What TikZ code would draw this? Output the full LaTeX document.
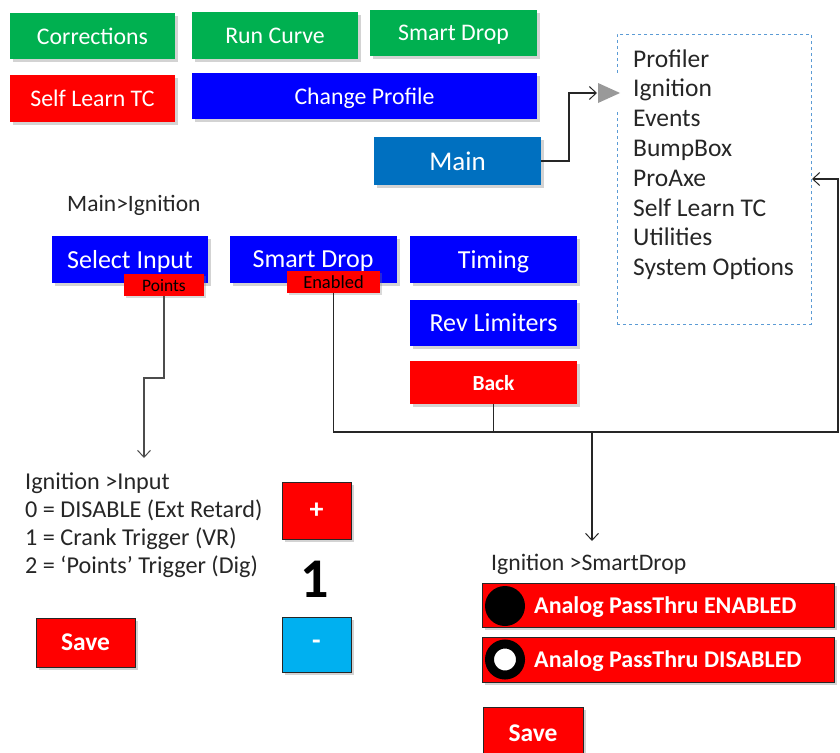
\documentclass[tikz,border=0pt]{standalone}
\usepackage{fontspec}
\setmainfont{Carlito}
\usetikzlibrary{shadows,arrows.meta,calc}
\definecolor{xgreen}{HTML}{00B050}
\definecolor{xred}{HTML}{FF0000}
\definecolor{xblue}{HTML}{0000FF}
\definecolor{xmain}{HTML}{0070C0}
\definecolor{xcyan}{HTML}{00B0F0}
\definecolor{xdash}{HTML}{5B9BD5}
\definecolor{xtext}{HTML}{262626}
\tikzset{
  btn/.style={rectangle, inner sep=0pt, text=white, align=center, text depth=0pt,
    drop shadow={shadow xshift=3pt, shadow yshift=-3pt, opacity=0.35}},
  bbtn/.style={btn, draw=black!85, line width=0.9pt},
  tag/.style={rectangle, inner sep=0pt, fill=xred, text=black, text depth=0pt,
    drop shadow={shadow xshift=2pt, shadow yshift=-2pt, opacity=0.3}},
  lbl/.style={inner sep=0pt, anchor=base west, text=xtext},
  conn/.style={line width=1.1pt, draw=black!85},
  arr/.style={conn, -{Straight Barb[length=7pt, width=13pt, line width=1pt]}},
  topf/.style={font=\fontsize{23.8}{26}\selectfont},
  midf/.style={font=\fontsize{26}{28}\selectfont},
}
\begin{document}
\begin{tikzpicture}[x=1pt, y=-1pt]
\useasboundingbox (0,0) rectangle (840,752);

% top buttons
\node[btn, topf, fill=xgreen, minimum width=165, minimum height=46] (corr) at (92.5,36) {Corrections};
\node[btn, topf, fill=xgreen, minimum width=166, minimum height=47] (runc) at (275,35.5) {Run Curve};
\node[btn, topf, fill=xgreen, minimum width=167, minimum height=46] (sdtop) at (453.5,33) {Smart Drop};
\node[btn, topf, fill=xred, minimum width=165, minimum height=47] (slt) at (92.5,98.5) {Self Learn TC};
\node[btn, topf, fill=xblue, minimum width=345, minimum height=46] (chp) at (364.5,96) {Change Profile};
\node[btn, fill=xmain, minimum width=167, minimum height=48, font=\fontsize{27}{30}\selectfont] (main) at (457.5,161) {Main};

% menu box
\node[draw=xdash, dashed, line width=0.9pt, minimum width=194, minimum height=290, inner sep=0pt] (menu) at (714,179) {};
\fill[white] (614,73) rectangle (620,110);
\node[inner sep=0pt] (tri) at (609,93) {};
\fill[black!40] (598,83) -- (620,93) -- (598,103) -- cycle;
\begin{scope}[font=\fontsize{25.5}{28}\selectfont]
\node[lbl] (m1) at (633,67) {Profiler};
\node[lbl] (m2) at (633,96.8) {Ignition};
\node[lbl] (m3) at (633,126.6) {Events};
\node[lbl] (m4) at (633,156.4) {BumpBox};
\node[lbl] (m5) at (633,186.2) {ProAxe};
\node[lbl] (m6) at (633,216) {Self Learn TC};
\node[lbl] (m7) at (633,245.8) {Utilities};
\node[lbl] (m8) at (633,275.6) {System Options};
\end{scope}

% main -> menu
\coordinate (mtip) at (597,93);
\coordinate (mb1) at (569,161);
\draw[arr] (main.east) -- (mb1) |- (mtip);

% Main>Ignition
\node[lbl, font=\fontsize{23.5}{26}\selectfont] (mi) at (67,211) {Main>Ignition};
\node[btn, midf, fill=xblue, minimum width=156, minimum height=47] (selin) at (130,259.5) {Select Input};
\node[btn, midf, fill=xblue, minimum width=167, minimum height=47] (sdmid) at (313,259.5) {Smart Drop};
\node[btn, midf, fill=xblue, minimum width=167, minimum height=47] (timing) at (493.5,259.5) {Timing};
\node[btn, midf, fill=xblue, minimum width=167, minimum height=46] (revl) at (493.5,323) {Rev Limiters};
\node[btn, fill=xred, minimum width=167, minimum height=43, font=\bfseries\fontsize{21.5}{24}\selectfont] (back) at (493.5,382.5) {Back};
\node[tag, minimum width=80, minimum height=22, font=\fontsize{17.5}{19}\selectfont] (points) at (164,285) {Points};
\node[tag, minimum width=93, minimum height=22, font=\fontsize{18.5}{20}\selectfont] (enabled) at (333.5,282) {Enabled};

% back -> menu
\coordinate (bk1) at (493.5,432);
\coordinate (bk2) at (838,432);
\coordinate (bk3) at (838,179);
\coordinate (btip) at (812,179);
\draw[arr] (back.south) -- (bk1) -- (bk2) -- (bk3) -- (btip);

% points -> input
\coordinate (p1) at (164,378);
\coordinate (p2) at (144,378);
\coordinate (ptip) at (144,458);
\draw[arr, draw=black!70] (points.south) -- (p1) -- (p2) -- (ptip);

% enabled -> smartdrop
\coordinate (e1) at (333.5,432);
\coordinate (e2) at (592,432);
\coordinate (etip) at (592,541);
\draw[arr] (enabled.south) -- (e1) -- (e2) -- (etip);

% Ignition > Input
\begin{scope}[font=\fontsize{24.2}{28}\selectfont]
\node[lbl] (in0) at (25,489) {Ignition >Input};
\node[lbl] (in1) at (25,517) {0 = DISABLE (Ext Retard)};
\node[lbl] (in2) at (25,545) {1 = Crank Trigger (VR)};
\node[lbl] (in3) at (25,573) {2 = ‘Points’ Trigger (Dig)};
\end{scope}
\node[bbtn, fill=xred, minimum width=69, minimum height=57, font=\bfseries\fontsize{28}{30}\selectfont] (plus) at (316.5,510.5) {+};
\node[inner sep=0pt, font=\bfseries\fontsize{56}{60}\selectfont] (val) at (315,579) {1};
\node[bbtn, fill=xcyan, minimum width=69, minimum height=55, font=\bfseries\fontsize{28}{30}\selectfont] (minus) at (316.5,644.5) {-};
\node[bbtn, fill=xred, minimum width=99, minimum height=49, font=\bfseries\fontsize{25.5}{28}\selectfont] (save1) at (85.5,642.5) {Save};

% Ignition > SmartDrop
\node[lbl, font=\fontsize{23.7}{26}\selectfont] (sdl) at (491,570) {Ignition >SmartDrop};
\node[bbtn, fill=xred, minimum width=352, minimum height=44] (rowen) at (658,605) {};
\node[bbtn, fill=xred, minimum width=352, minimum height=45] (rowdis) at (658,659.5) {};
\node[circle, fill=black, minimum size=40, inner sep=0pt] (cen) at (505,606) {};
\node[circle, fill=white, draw=black, line width=9pt, minimum size=31, inner sep=0pt] (cdis) at (505,659.5) {};
\node[lbl, text=white, font=\bfseries\fontsize{24}{26}\selectfont, anchor=west, text depth=0pt] (ten) at (534,605) {Analog PassThru ENABLED};
\node[lbl, text=white, font=\bfseries\fontsize{24}{26}\selectfont, anchor=west, text depth=0pt] (tdis) at (534,659.5) {Analog PassThru DISABLED};
\node[bbtn, fill=xred, minimum width=100, minimum height=53, font=\bfseries\fontsize{25.5}{28}\selectfont] (save2) at (533,733.5) {Save};
\end{tikzpicture}
\end{document}
